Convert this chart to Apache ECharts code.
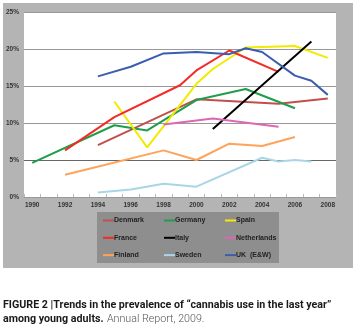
<!DOCTYPE html>
<html><head><meta charset="utf-8">
<script src="https://cdn.jsdelivr.net/npm/echarts@6/dist/echarts.min.js"></script>
<style>html,body{margin:0;padding:0;background:#fff}#c{width:358px;height:326px}</style>
</head><body><div id="c"></div>
<script>
var years = ['1990','1991','1992','1993','1994','1995','1996','1997','1998','1999','2000','2001','2002','2003','2004','2005','2006','2007','2008'];
var yTicks = [0,5,10,15,20,25];
var _ = null;
//            90 91 92 93 94  95  96  97  98  99  00   01   02   03   04   05   06   07   08
var denmark =    [_, _, _, _, 7.0, _, _, _, _, _, 13.2, _, _, _, _, 12.6, _, _, 13.3];
var germany =    [4.6, _, _, _, _, 9.7, _, 9.0, _, _, 13.1, _, _, 14.6, _, _, 12.0, _, _];
var spain =      [_, _, _, _, _, 12.9, _, 6.7, _, _, 15.3, 17.3, _, 20.2, _, _, 20.4, _, 18.8];
var france =     [_, _, 6.3, _, _, 10.8, _, _, _, 15.1, 17.1, _, 19.8, _, _, 16.9, _, _, _];
var italy =      [_, _, _, _, _, _, _, _, _, _, _, 9.2, _, _, _, _, _, 21.0, _];
var netherlands =[_, _, _, _, _, _, _, _, 9.8, _, _, 10.6, _, _, _, 9.5, _, _, _];
var finland =    [_, _, 3.0, _, _, _, _, _, 6.3, _, 5.0, _, 7.2, _, 6.9, _, 8.1, _, _];
var sweden =     [_, _, _, _, 0.6, _, 1.0, _, 1.8, _, 1.4, _, _, _, 5.3, 4.8, 5.0, 4.8, _];
var uk =         [_, _, _, _, 16.3, _, 17.6, _, 19.4, _, 19.6, _, 19.3, 20.1, 19.6, _, 16.4, 15.7, 13.8];

var names = ['Denmark','Germany','Spain','France','Italy','Netherlands','Finland','Sweden','UK  (E&W)'];
var datas = [denmark, germany, spain, france, italy, netherlands, finland, sweden, uk];
var colors = ['#c0504d','#1e9e4a','#f2ea00','#f42a24','#000000','#de66b4','#ffa25a','#a9d6e6','#3b5db0'];

var chart = echarts.init(document.getElementById('c'), null, {renderer:'canvas'});
var series = names.map(function(n,i){
  return {name:n, type:'line', data:datas[i], connectNulls:true, showSymbol:false, symbol:'none',
    lineStyle:{color:colors[i], width:2}, itemStyle:{color:colors[i]}, silent:true, animation:false};
});
function legendCol(left, items){
  return {orient:'vertical', left:left, top:217, data:items, icon:'rect', itemWidth:11, itemHeight:2,
    itemGap:10.3, padding:0, selectedMode:false,
    textStyle:{fontFamily:'Liberation Sans, Arial', fontSize:7, fontWeight:'bold', color:'#222', padding:[0,0,0,-5]}};
}
chart.setOption({
  animation:false,
  grid:{left:24, right:22, top:12, bottom:129, show:true, backgroundColor:'#fff', borderWidth:0},
  graphic:[
    {type:'rect', z:-10, shape:{x:3,y:3,width:350,height:265}, style:{fill:'#b4b4b4'}},
    {type:'rect', z:-9, shape:{x:97,y:212,width:182,height:51}, style:{fill:'#8e8e8e'}},
    {type:'text', left:3, top:299.5, style:{rich:{b:{fontFamily:'Roboto', fontWeight:'bold', fontSize:10.7, fill:'#1a1a1a'}}, text:'{b|FIGURE 2 |Trends in the prevalence of \u201ccannabis use in the last year\u201d}'}},
    {type:'text', left:3, top:313.5, style:{rich:{b:{fontFamily:'Roboto', fontWeight:'bold', fontSize:10.7, fill:'#1a1a1a'}, n:{fontFamily:'Roboto', fontWeight:300, fontSize:10.7, fill:'#555'}}, text:'{b|among young adults.} {n|Annual Report, 2009.}'}}
  ],
  legend:[
    legendCol(103, ['Denmark','France','Finland']),
    legendCol(164, ['Germany','Italy','Sweden']),
    legendCol(225, ['Spain','Netherlands','UK  (E&W)'])
  ],
  xAxis:{type:'category', data:years, boundaryGap:true,
    axisLine:{show:false},
    axisTick:{show:true, inside:true, length:3, interval:0, lineStyle:{color:'#bbb'}},
    axisLabel:{interval:1, margin:5, fontFamily:'Liberation Sans, Arial', fontSize:6.5, fontWeight:'bold', color:'#333'}},
  yAxis:{type:'value', min:0, max:25, interval:5,
    axisLine:{show:false}, axisTick:{show:false},
    axisLabel:{formatter:'{value}%', margin:5, fontFamily:'Liberation Sans, Arial', fontSize:6.5, fontWeight:'bold', color:'#333'},
    splitLine:{lineStyle:{color:['#999','#666','#999','#999','#999','#999'], width:1}}},
  series:series
});
</script></body></html>
